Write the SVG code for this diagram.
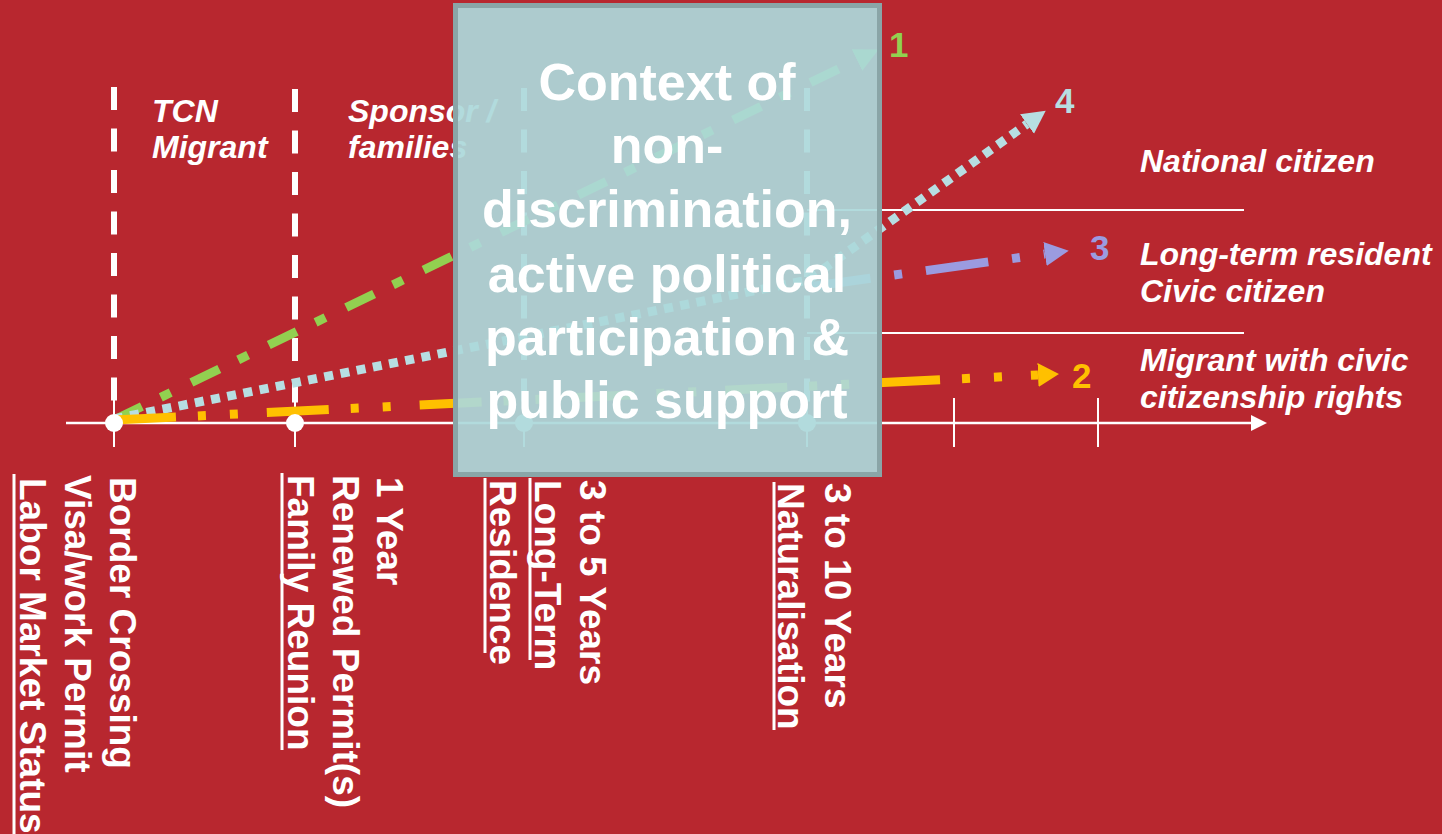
<svg xmlns="http://www.w3.org/2000/svg" width="1442" height="834" viewBox="0 0 1442 834">
<style>
.lbl{font-family:"Liberation Sans",Arial,sans-serif;font-weight:bold;font-style:italic;font-size:32px;fill:#fff}
.vt{font-family:"Liberation Sans",Arial,sans-serif;font-weight:bold;font-size:37px;fill:#fff}
.num{font-family:"Liberation Sans",Arial,sans-serif;font-weight:bold;font-size:35px}
.box{font-family:"Liberation Sans",Arial,sans-serif;font-weight:bold;font-size:52px;fill:#fff;text-anchor:middle}
.wl{stroke:#fff;fill:none}
.ul{stroke:#fff;stroke-width:3}
</style>
<defs>
<marker id="agreen" markerUnits="userSpaceOnUse" markerWidth="30" markerHeight="30" refX="0" refY="12" orient="auto"><path d="M0,0 L24,12 L0,24 Z" fill="#92d050"/></marker>
<marker id="ablue" markerUnits="userSpaceOnUse" markerWidth="30" markerHeight="30" refX="0" refY="12" orient="auto"><path d="M0,0 L23,12 L0,24 Z" fill="#b7dee2"/></marker>
<marker id="apurple" markerUnits="userSpaceOnUse" markerWidth="30" markerHeight="30" refX="0" refY="12" orient="auto"><path d="M0,0 L24,12 L0,24 Z" fill="#9b9be0"/></marker>
<marker id="aorange" markerUnits="userSpaceOnUse" markerWidth="30" markerHeight="30" refX="0" refY="12" orient="auto"><path d="M0,0 L21,12 L0,24 Z" fill="#ffc000"/></marker>
<marker id="aaxis" markerUnits="userSpaceOnUse" markerWidth="20" markerHeight="20" refX="0" refY="8" orient="auto"><path d="M0,0 L16,8 L0,16 Z" fill="#fff"/></marker>
</defs>
<rect width="1442" height="834" fill="#b8272f"/>

<g id="grid">
<line class="wl" x1="114" y1="87" x2="114" y2="405" stroke-width="6" stroke-dasharray="23 18.5"/>
<line class="wl" x1="295" y1="89" x2="295" y2="405" stroke-width="6" stroke-dasharray="23 18.5"/>
<line class="wl" x1="524" y1="88" x2="524" y2="405" stroke-width="6" stroke-dasharray="23 18.5"/>
<line class="wl" x1="807" y1="88" x2="807" y2="405" stroke-width="6" stroke-dasharray="23 18.5"/>
<line class="wl" x1="807" y1="210" x2="1244" y2="210" stroke-width="2"/>
<line class="wl" x1="807" y1="333" x2="1244" y2="333" stroke-width="2"/>
</g>

<g id="axis">
<line class="wl" x1="66" y1="423" x2="1251" y2="423" stroke-width="2.5" marker-end="url(#aaxis)"/>
<line class="wl" x1="114" y1="398" x2="114" y2="447" stroke-width="2"/>
<line class="wl" x1="295" y1="398" x2="295" y2="447" stroke-width="2"/>
<line class="wl" x1="524" y1="398" x2="524" y2="447" stroke-width="2"/>
<line class="wl" x1="807" y1="398" x2="807" y2="447" stroke-width="2"/>
<line class="wl" x1="954" y1="398" x2="954" y2="447" stroke-width="2"/>
<line class="wl" x1="1098" y1="398" x2="1098" y2="447" stroke-width="2"/>
</g>

<g id="connectors">
<line x1="114" y1="420" x2="857" y2="60" stroke="#92d050" stroke-width="9" stroke-dasharray="31 21 11 23" marker-end="url(#agreen)"/>
<polyline points="114,419 808,280 1027,124" fill="none" stroke="#b7dee2" stroke-width="9" stroke-dasharray="9 7.5" marker-end="url(#ablue)"/>
<line x1="808" y1="287" x2="1045" y2="254" stroke="#9b9be0" stroke-width="9" stroke-dasharray="63 24 8 24" marker-end="url(#apurple)"/>
<line x1="114" y1="420" x2="1038" y2="375" stroke="#ffc000" stroke-width="9" stroke-dasharray="62 22 8 24 8 29" marker-end="url(#aorange)"/>
</g>

<g id="points">
<circle cx="114" cy="423" r="9" fill="#fff"/>
<circle cx="295" cy="423" r="9" fill="#fff"/>
<circle cx="524" cy="423" r="9" fill="#fff"/>
<circle cx="807" cy="423" r="9" fill="#fff"/>
</g>

<g id="path-numbers">
<text class="num" x="889" y="57" fill="#92d050">1</text>
<text class="num" x="1055" y="113" fill="#b7dee2">4</text>
<text class="num" x="1090" y="260" fill="#9b9be0">3</text>
<text class="num" x="1072" y="388" fill="#ffc000">2</text>
</g>

<g id="node-tcn"><text class="lbl" x="152" y="122">TCN</text><text class="lbl" x="152" y="158">Migrant</text></g>
<g id="node-sponsor"><text class="lbl" x="348" y="122">Sponsor /</text><text class="lbl" x="348" y="158">families</text></g>
<g id="node-national"><text class="lbl" x="1140" y="172">National citizen</text></g>
<g id="node-longterm"><text class="lbl" x="1140" y="265">Long-term resident</text><text class="lbl" x="1140" y="302">Civic citizen</text></g>
<g id="node-migrant-civic"><text class="lbl" x="1140" y="371">Migrant with civic</text><text class="lbl" x="1140" y="408">citizenship rights</text></g>

<g id="node-border">
<text class="vt" transform="translate(110,477) rotate(90)">Border Crossing</text>
<text class="vt" transform="translate(65,475) rotate(90)">Visa/work Permit</text>
<text class="vt" transform="translate(20,478) rotate(90)">Labor Market Status</text>
<line class="ul" x1="14" y1="474" x2="14" y2="834"/>
</g>
<g id="node-family">
<text class="vt" transform="translate(377,477) rotate(90)">1 Year</text>
<text class="vt" transform="translate(333,475) rotate(90)">Renewed Permit(s)</text>
<text class="vt" transform="translate(288,475) rotate(90)">Family Reunion</text>
<line class="ul" x1="282" y1="473" x2="282" y2="750"/>
</g>
<g id="node-residence">
<text class="vt" transform="translate(580,480) rotate(90)">3 to 5 Years</text>
<text class="vt" transform="translate(535,480) rotate(90)">Long-Term</text>
<text class="vt" transform="translate(490,480) rotate(90)">Residence</text>
<line class="ul" x1="530" y1="478" x2="530" y2="660"/>
<line class="ul" x1="485" y1="478" x2="485" y2="653"/>
</g>
<g id="node-naturalisation">
<text class="vt" transform="translate(825,483) rotate(90)">3 to 10 Years</text>
<text class="vt" transform="translate(778,483) rotate(90)">Naturalisation</text>
<line class="ul" x1="774" y1="482" x2="774" y2="730"/>
</g>

<g id="node-context">
<rect x="455.5" y="5.5" width="424" height="469" fill="#acd8da" fill-opacity="0.93" stroke="#8aa5a7" stroke-width="5"/>
<text class="box" x="667" y="100">Context of</text>
<text class="box" x="667" y="163">non-</text>
<text class="box" x="667" y="227">discrimination,</text>
<text class="box" x="667" y="292">active political</text>
<text class="box" x="667" y="355">participation &amp;</text>
<text class="box" x="667" y="418">public support</text>
</g>
</svg>
